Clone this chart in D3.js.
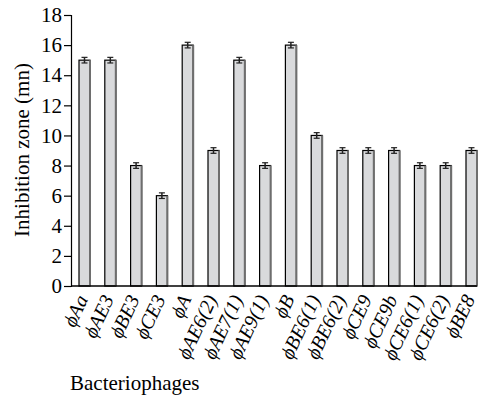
<!DOCTYPE html>
<html><head><meta charset="utf-8">
<script src="https://cdn.jsdelivr.net/npm/d3@7"></script>
<style>
svg text { font-family: "Times New Roman", "Liberation Serif", Tinos, "Nimbus Roman", serif !important; }
</style>
</head><body style="margin:0;background:#fff">
<svg id="c" width="485" height="395"></svg>
<script>
const categories = ["ϕAa","ϕAE3","ϕBE3","ϕCE3","ϕA","ϕAE6(2)","ϕAE7(1)","ϕAE9(1)","ϕB","ϕBE6(1)","ϕBE6(2)","ϕCE9","ϕCE9b","ϕCE6(1)","ϕCE6(2)","ϕBE8"];
const values = [15,15,8,6,16,9,15,8,16,10,9,9,9,8,8,9];
const errors = [0.12,0.12,0.12,0.12,0.12,0.12,0.12,0.12,0.12,0.12,0.12,0.12,0.12,0.12,0.12,0.12];
const yTicks = [0,2,4,6,8,10,12,14,16,18];

const FONT = "Times New Roman, Liberation Serif, serif";
const svg = d3.select("#c");
const x0 = 71, x1 = 477, yB = 286, yT = 15, bw = 11;
const x = d3.scalePoint().domain(categories).range([84.5, 471.5]);
const y = d3.scaleLinear().domain([0,18]).range([yB, yT]);

// y axis
const ya = svg.append("g").attr("transform",`translate(${x0},0)`)
  .call(d3.axisLeft(y).tickValues(yTicks).tickSize(7).tickPadding(2));
ya.attr("font-family",FONT).attr("font-size",21);
ya.select(".domain").attr("stroke","#000").attr("stroke-width",1.2);
ya.selectAll(".tick line").attr("stroke","#000").attr("stroke-width",1.2);
ya.selectAll(".tick text").attr("fill","#000").attr("font-size",21);

// bars
const g = svg.append("g");
categories.forEach((c,i)=>{
  const cx = x(c), top = y(values[i]);
  g.append("rect").attr("x",cx-bw/2).attr("y",top).attr("width",bw).attr("height",yB-top)
    .attr("fill","#d9dadc").attr("stroke","#000").attr("stroke-width",1.2);
  g.append("line").attr("x1",cx+bw/2).attr("x2",cx+bw/2).attr("y1",top).attr("y2",yB)
    .attr("stroke","#6e6e6e").attr("stroke-width",2);
  const e1 = y(values[i]+errors[i]), e0 = y(values[i]-errors[i]);
  g.append("line").attr("x1",cx).attr("x2",cx).attr("y1",e1-1).attr("y2",e0+1).attr("stroke","#222").attr("stroke-width",1.5);
  g.append("line").attr("x1",cx-3).attr("x2",cx+3).attr("y1",e1-1).attr("y2",e1-1).attr("stroke","#222").attr("stroke-width",1.2);
  g.append("line").attr("x1",cx-3).attr("x2",cx+3).attr("y1",e0+1).attr("y2",e0+1).attr("stroke","#222").attr("stroke-width",1.2);
});

// x axis line
svg.append("line").attr("x1",x0).attr("x2",x1).attr("y1",yB).attr("y2",yB).attr("stroke","#000").attr("stroke-width",1.4);

// x labels
categories.forEach(c=>{
  svg.append("text").attr("transform",`translate(${x(c)+4},${yB+13}) rotate(-65)`)
    .attr("text-anchor","end").attr("fill","#000")
    .attr("font-family",FONT).attr("font-size",20).attr("font-style","italic")
    .text(c);
});

svg.append("text").attr("x",70).attr("y",390).attr("fill","#000")
  .attr("font-family",FONT).attr("font-size",21).text("Bacteriophages");
svg.append("text").attr("transform","translate(29,150) rotate(-90)").attr("text-anchor","middle").attr("fill","#000")
  .attr("font-family",FONT).attr("font-size",21).text("Inhibition zone (mn)");
</script>
</body></html>
